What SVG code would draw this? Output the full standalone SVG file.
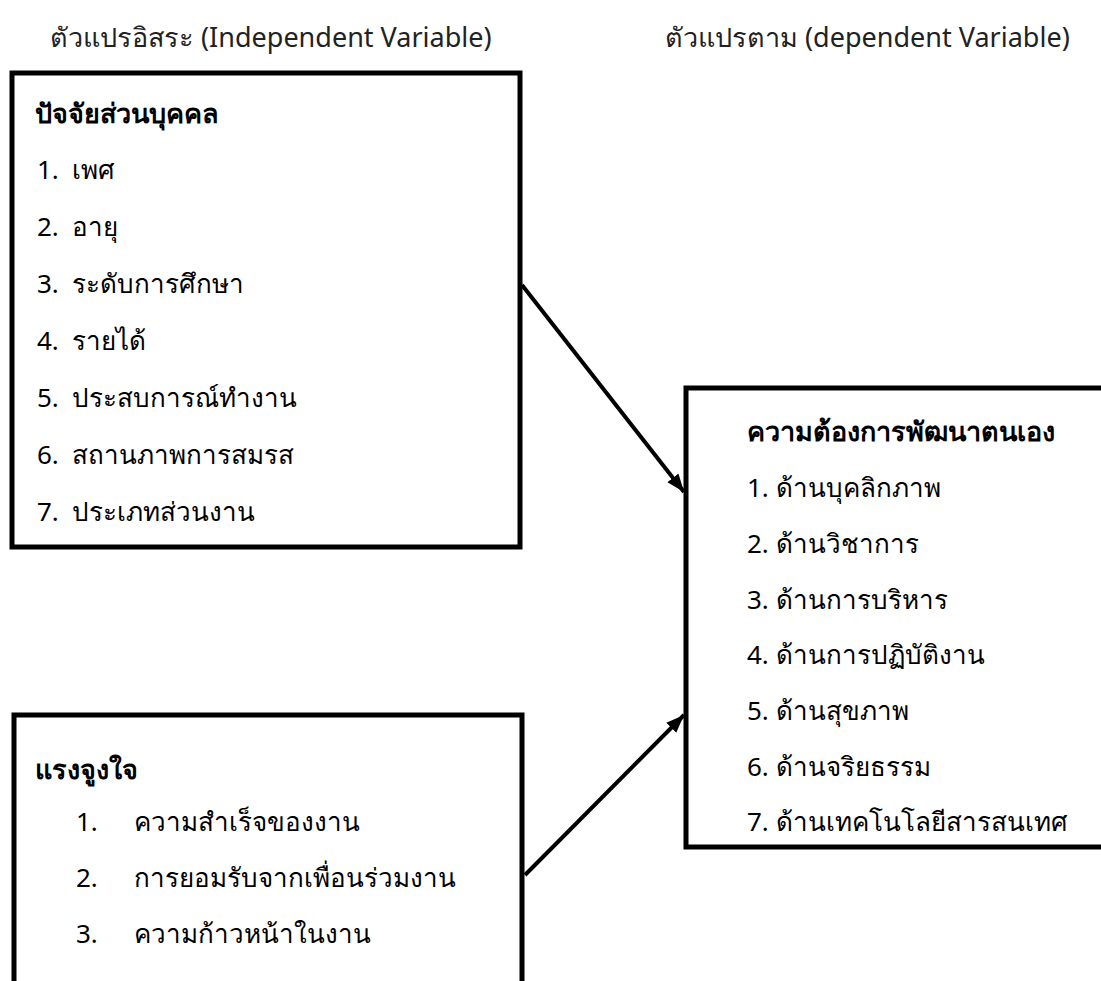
<svg xmlns="http://www.w3.org/2000/svg" width="1101" height="981" viewBox="0 0 1101 981">
<style>
text{font-family:"Noto Sans","DejaVu Sans",sans-serif;font-size:26px;fill:#000}
.h{font-size:27px;fill:#222}
.b{font-weight:bold;font-size:27px}
.box{fill:#fff;stroke:#000;stroke-width:5}
.con{stroke:#000;stroke-width:4;fill:none}
</style>
<defs>
<marker id="ah" markerWidth="4.5" markerHeight="4" refX="4.5" refY="2" orient="auto" markerUnits="strokeWidth">
<path d="M0,0.25 L4.5,2 L0,3.75 z" fill="#000"/>
</marker>
</defs>
<g id="headers">
<text class="h" x="50" y="47">ตัวแปรอิสระ (Independent Variable)</text>
<text class="h" x="665" y="47">ตัวแปรตาม (dependent Variable)</text>
</g>
<g id="personal">
<rect class="box" x="12" y="73" width="508" height="474"/>
<text class="b" x="35" y="123">ปัจจัยส่วนบุคคล</text>
<text x="37" y="179">1.</text><text x="72" y="179">เพศ</text>
<text x="37" y="236">2.</text><text x="72" y="236">อายุ</text>
<text x="37" y="293">3.</text><text x="72" y="293">ระดับการศึกษา</text>
<text x="37" y="350">4.</text><text x="72" y="350">รายได้</text>
<text x="37" y="407">5.</text><text x="72" y="407">ประสบการณ์ทำงาน</text>
<text x="37" y="464">6.</text><text x="72" y="464">สถานภาพการสมรส</text>
<text x="37" y="521">7.</text><text x="72" y="521">ประเภทส่วนงาน</text>
</g>
<g id="motivation">
<rect class="box" x="14" y="715" width="508" height="300"/>
<text class="b" x="35" y="779">แรงจูงใจ</text>
<text x="76" y="831">1.</text><text x="134" y="831">ความสำเร็จของงาน</text>
<text x="76" y="887">2.</text><text x="134" y="887">การยอมรับจากเพื่อนร่วมงาน</text>
<text x="76" y="943">3.</text><text x="134" y="943">ความก้าวหน้าในงาน</text>
</g>
<g id="selfdev">
<rect class="box" x="686" y="388" width="430" height="459"/>
<text class="b" x="747" y="441">ความต้องการพัฒนาตนเอง</text>
<text x="747" y="497">1. ด้านบุคลิกภาพ</text>
<text x="747" y="553">2. ด้านวิชาการ</text>
<text x="747" y="609">3. ด้านการบริหาร</text>
<text x="747" y="664">4. ด้านการปฏิบัติงาน</text>
<text x="747" y="720">5. ด้านสุขภาพ</text>
<text x="747" y="776">6. ด้านจริยธรรม</text>
<text x="747" y="831">7. ด้านเทคโนโลยีสารสนเทศ</text>
</g>
<g id="connectors">
<line class="con" x1="522" y1="285" x2="684" y2="492" marker-end="url(#ah)"/>
<line class="con" x1="525" y1="875" x2="684" y2="715" marker-end="url(#ah)"/>
</g>
</svg>
